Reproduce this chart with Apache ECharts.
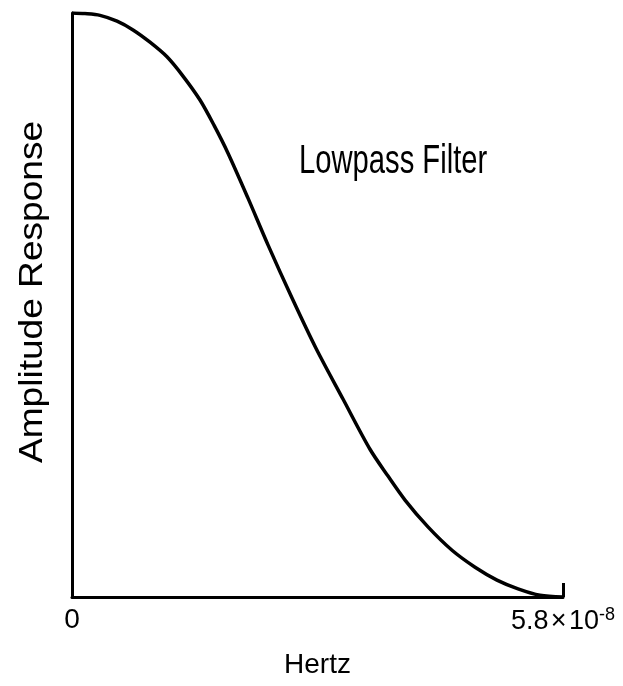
<!DOCTYPE html>
<html>
<head>
<meta charset="utf-8">
<script src="https://cdn.jsdelivr.net/npm/echarts@6/dist/echarts.min.js"></script>
<style>
html,body{margin:0;padding:0;background:#fff;}
#chart{width:623px;height:686px;}
</style>
</head>
<body>
<div id="chart"></div>
<script>
// Frequency in units of 1e-8 Hz
var frequency = [0, 0.154, 0.331, 0.532, 0.721, 0.921, 1.122, 1.311, 1.512, 1.677, 1.843, 2.079, 2.315, 2.599, 2.882, 3.201, 3.520, 3.733, 3.934, 4.205, 4.489, 4.761, 5.020, 5.269, 5.528, 5.800];
var amplitude = [1.0, 0.999, 0.996, 0.986, 0.971, 0.950, 0.925, 0.892, 0.851, 0.808, 0.760, 0.683, 0.603, 0.512, 0.426, 0.339, 0.253, 0.207, 0.166, 0.120, 0.080, 0.051, 0.029, 0.014, 0.003, 0.0];
var xTickValues = [0, 5.8];
var xTickLabels = ['0', '5.8\u200a×\u200a10'];
var xTickExponent = '-8';
var titleText = 'Lowpass Filter';
var xAxisName = 'Hertz';
var yAxisName = 'Amplitude Response';

var FONT = '"Liberation Sans", Arial, sans-serif';
var chart = echarts.init(document.getElementById('chart'));
var pts = frequency.map(function (f, i) { return [f, amplitude[i]]; });

chart.setOption({
  backgroundColor: '#fff',
  animation: false,
  grid: { left: 72, right: 60, top: 13, bottom: 89, containLabel: false },
  xAxis: {
    type: 'value', min: 0, max: 5.8,
    name: xAxisName, nameLocation: 'middle', nameGap: 54,
    nameTextStyle: { fontFamily: FONT, fontSize: 28, color: '#000' },
    axisLine: { show: true, lineStyle: { color: '#000', width: 3 } },
    axisTick: { show: true, inside: true, length: 14, customValues: [5.8], lineStyle: { color: '#000', width: 3 } },
    axisLabel: {
      show: true, margin: 9, customValues: xTickValues,
      fontFamily: FONT, fontSize: 28, color: '#000',
      formatter: function (v) {
        var idx = xTickValues.indexOf(v);
        if (idx === 0) return xTickLabels[0];
        return '{b|' + xTickLabels[idx] + '}{s|' + xTickExponent + '}';
      },
      rich: {
        b: { fontFamily: FONT, fontSize: 27, color: '#000' },
        s: { fontFamily: FONT, fontSize: 18, color: '#000', padding: [0, 0, 14, 0] }
      }
    },
    splitLine: { show: false }
  },
  yAxis: {
    type: 'value', min: 0, max: 1,
    axisLine: { show: true, lineStyle: { color: '#000', width: 3 } },
    axisTick: { show: false },
    axisLabel: { show: false },
    splitLine: { show: false }
  },
  graphic: [
    {
      type: 'text', x: 299, y: 162, scaleX: 0.73, scaleY: 1,
      style: { text: titleText, fontFamily: FONT, fontSize: 40, fill: '#000', align: 'left', verticalAlign: 'middle' }
    },
    {
      type: 'text', x: 33, y: 292, rotation: Math.PI / 2, scaleX: 1.03, scaleY: 0.9,
      style: { text: yAxisName, fontFamily: FONT, fontSize: 36, fill: '#000', align: 'center', verticalAlign: 'middle' }
    }
  ],
  series: [{
    type: 'line',
    data: pts,
    smooth: 0.3,
    showSymbol: false,
    lineStyle: { color: '#000', width: 3.5 }
  }]
});
</script>
</body>
</html>
